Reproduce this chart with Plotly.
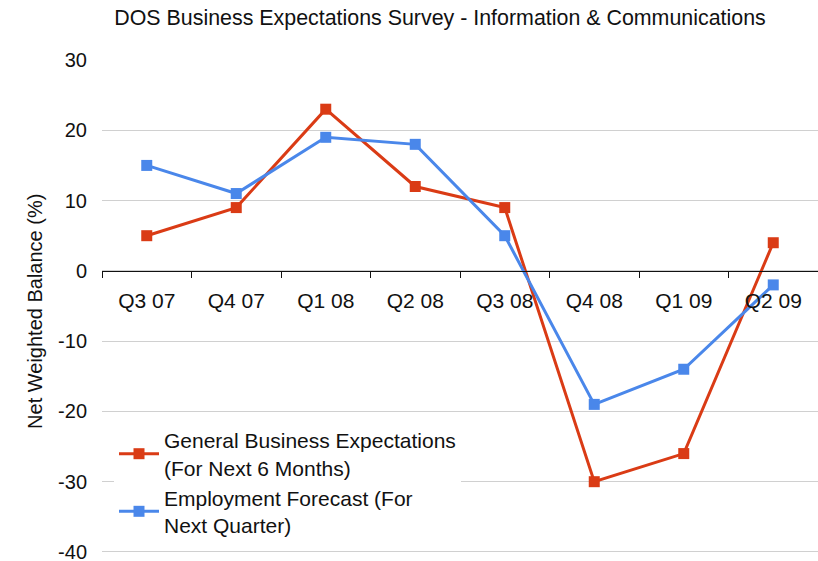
import plotly.graph_objects as go

categories = ["Q3 07", "Q4 07", "Q1 08", "Q2 08", "Q3 08", "Q4 08", "Q1 09", "Q2 09"]
general_business = [5, 9, 23, 12, 9, -30, -26, 4]
employment = [15, 11, 19, 18, 5, -19, -14, -2]
series_names = ["General Business Expectations<br>(For Next 6 Months)",
                "Employment Forecast (For<br>Next Quarter)"]
y_ticks = [30, 20, 10, 0, -10, -20, -30, -40]

RED = "#DA3B15"
BLUE = "#4A87EA"
FONT = "Liberation Sans, Arial, Helvetica, sans-serif"

fig = go.Figure()
fig.add_trace(go.Scatter(
    x=categories, y=general_business, name=series_names[0], mode="lines+markers",
    line=dict(color=RED, width=3), marker=dict(symbol="square", size=11, color=RED)))
fig.add_trace(go.Scatter(
    x=categories, y=employment, name=series_names[1], mode="lines+markers",
    line=dict(color=BLUE, width=3), marker=dict(symbol="square", size=11, color=BLUE)))

W, H = 818, 561
ymin, ymax = -41, 30
px_per_unit = 7.03
L, R, T = 102, 0, 60
plot_h = (ymax - ymin) * px_per_unit
B = H - T - plot_h
zero_pos = (0 - ymin) / (ymax - ymin)
bottom_px = T + plot_h


def ypaper(py):
    return (bottom_px - py) / plot_h


fig.update_layout(
    width=W, height=H,
    margin=dict(l=L, r=R, t=T, b=B, pad=0, autoexpand=False),
    paper_bgcolor="white", plot_bgcolor="white",
    title=dict(text="DOS Business Expectations Survey - Information & Communications",
               x=440 / W, xanchor="center", y=1 - 18 / H, yanchor="middle",
               font=dict(family=FONT, size=21.4, color="#111")),
    showlegend=True,
    legend=dict(x=(114 - L) / (W - L), y=ypaper(420), xanchor="left", yanchor="top",
                bgcolor="white", font=dict(family=FONT, size=21, color="#111"),
                itemwidth=40, tracegroupgap=2),
    xaxis=dict(type="category", categoryorder="array", categoryarray=categories,
               range=[-0.5, len(categories) - 0.5],
               anchor="free", position=zero_pos, automargin=False,
               showline=True, linecolor="#111", linewidth=1,
               ticks="outside", ticklen=6, tickcolor="#111", tickson="boundaries",
               ticklabelstandoff=11,
               showgrid=False, zeroline=False,
               tickfont=dict(family=FONT, size=21, color="#111")),
    yaxis=dict(range=[ymin, ymax], tickvals=y_ticks, ticktext=[str(v) for v in y_ticks],
               automargin=False, ticklabeloverflow="allow",
               showgrid=True, gridcolor="#D0D0D0", gridwidth=1,
               zeroline=False, showline=False, ticks="",
               ticklabelstandoff=14,
               tickfont=dict(family=FONT, size=20, color="#111")),
    annotations=[dict(text="Net Weighted Balance (%)", textangle=-90,
                      xref="paper", yref="paper", x=-(L - 35) / (W - L), y=ypaper(312),
                      xanchor="center", yanchor="middle", showarrow=False,
                      font=dict(family=FONT, size=20, color="#111"))],
)

fig.write_html("out.html", config={"displayModeBar": False},
               post_script="document.body.style.margin='0';document.body.style.overflow='hidden';")
